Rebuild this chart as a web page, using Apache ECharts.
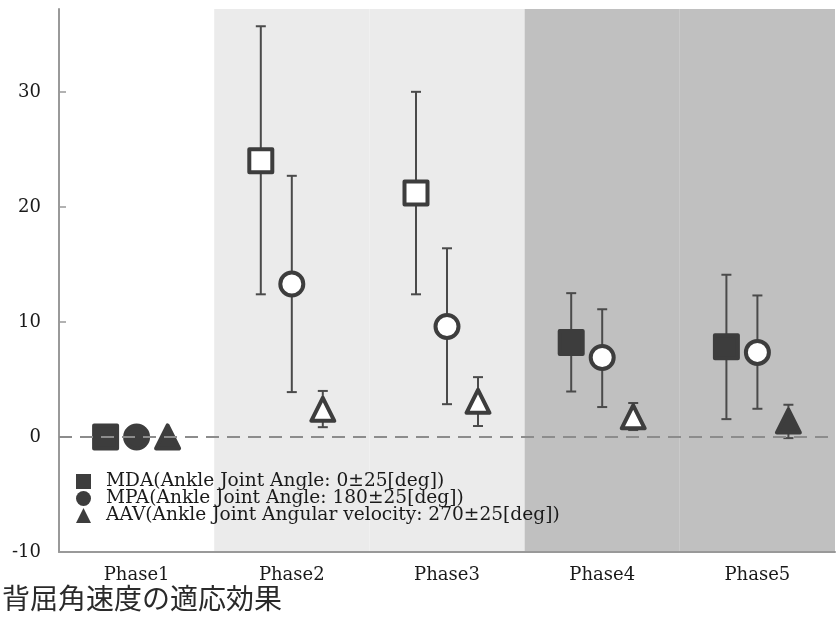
<!DOCTYPE html>
<html>
<head>
<meta charset="utf-8">
<script src="https://cdn.jsdelivr.net/npm/echarts@6/dist/echarts.min.js"></script>
<style>html,body{margin:0;padding:0;background:#fff}#c{width:838px;height:623px}</style>
</head>
<body>
<div id="c"></div>
<script>
// ---- data ----
var phases = ['Phase1', 'Phase2', 'Phase3', 'Phase4', 'Phase5'];
var yTicks = [-10, 0, 10, 20, 30];
var bandColors = ['#ffffff', '#ebebeb', '#ebebeb', '#c0c0c0', '#c0c0c0'];
var seriesNames = [
  'MDA(Ankle Joint Angle: 0\u00b125[deg])',
  'MPA(Ankle Joint Angle: 180\u00b125[deg])',
  'AAV(Ankle Joint Angular velocity: 270\u00b125[deg])'
];
var mdaMean = [0, 24.0, 21.2, 8.2, 7.85];
var mdaLow  = [0, 12.4, 12.4, 3.95, 1.55];
var mdaHigh = [0, 35.7, 30.0, 12.5, 14.1];
var mpaMean = [0, 13.3, 9.6, 6.9, 7.35];
var mpaLow  = [0, 3.9, 2.85, 2.6, 2.45];
var mpaHigh = [0, 22.7, 16.4, 11.1, 12.3];
var aavMean = [0, 2.4, 3.1, 1.75, 1.38];
var aavLow  = [0, 0.85, 0.95, 0.6, -0.1];
var aavHigh = [0, 4.0, 5.2, 2.95, 2.8];
var mdaFilled = [1, 0, 0, 1, 1];
var mpaFilled = [1, 0, 0, 0, 0];
var aavFilled = [1, 0, 0, 0, 1];

// ---- styling ----
var DARK = '#3d3d3d';
var BAR = '#4a4a4a';
var SERIF = 'DejaVu Serif';
var offsets = [-31, 0, 31];
var symbols = ['rect', 'circle', 'triangle'];
var sizes = [23, 23, 23];

var chart = echarts.init(document.getElementById('c'), null, {renderer: 'canvas'});

function pointData(mean, filled) {
  return mean.map(function (v, i) {
    return {
      value: [i, v],
      itemStyle: {
        color: filled[i] ? DARK : '#ffffff',
        borderColor: DARK,
        borderWidth: 4
      }
    };
  });
}
function barData(low, high) {
  return low.map(function (v, i) { return [i, v, high[i]]; });
}
function errorRender(off) {
  return function (params, api) {
    var lo = api.coord([api.value(0), api.value(1)]);
    var hi = api.coord([api.value(0), api.value(2)]);
    var x = lo[0] + off;
    var cap = 5;
    var st = {stroke: BAR, lineWidth: 2};
    return {
      type: 'group',
      children: [
        {type: 'line', shape: {x1: x, y1: lo[1], x2: x, y2: hi[1]}, style: st},
        {type: 'line', shape: {x1: x - cap, y1: lo[1], x2: x + cap, y2: lo[1]}, style: st},
        {type: 'line', shape: {x1: x - cap, y1: hi[1], x2: x + cap, y2: hi[1]}, style: st}
      ]
    };
  };
}

var means = [mdaMean, mpaMean, aavMean];
var lows = [mdaLow, mpaLow, aavLow];
var highs = [mdaHigh, mpaHigh, aavHigh];
var filleds = [mdaFilled, mpaFilled, aavFilled];

var series = [];
// background bands
series.push({
  type: 'custom',
  silent: true,
  z: 0,
  data: phases.map(function (p, i) { return [i, 0]; }),
  renderItem: function (params, api) {
    var c = api.coord([api.value(0), 0]);
    var w = api.size([1, 0])[0];
    var cs = params.coordSys;
    return {
      type: 'rect',
      shape: {x: c[0] - w / 2, y: cs.y, width: w, height: cs.height},
      style: {fill: bandColors[params.dataIndex]}
    };
  }
});
// error bars
for (var k = 0; k < 3; k++) {
  series.push({
    type: 'custom',
    silent: true,
    z: 1,
    data: barData(lows[k], highs[k]),
    renderItem: errorRender(offsets[k])
  });
}
// markers
for (var k2 = 0; k2 < 3; k2++) {
  series.push({
    name: seriesNames[k2],
    type: 'scatter',
    z: 3,
    symbol: symbols[k2],
    symbolSize: sizes[k2],
    symbolOffset: [offsets[k2], 0],
    itemStyle: {color: DARK, borderColor: DARK, borderWidth: 4, borderJoin: 'round', opacity: 1},
    emphasis: {disabled: true},
    data: pointData(means[k2], filleds[k2])
  });
}
// zero line
series.push({
  type: 'line',
  z: 5,
  data: [],
  silent: true,
  markLine: {
    silent: true,
    symbol: 'none',
    label: {show: false},
    lineStyle: {color: '#8c8c8c', width: 2, type: [13, 8]},
    emphasis: {disabled: true},
    data: [{yAxis: 0}]
  }
});

chart.setOption({
  animation: false,
  backgroundColor: '#ffffff',
  title: {
    text: '背屈角速度の適応効果',
    left: 2,
    top: 584,
    padding: 0,
    textStyle: {fontFamily: 'Noto Sans CJK JP', fontSize: 28, fontWeight: 'normal', color: '#2a2a2a'}
  },
  legend: {
    orient: 'vertical',
    left: 76,
    top: 472,
    padding: 0,
    itemGap: -2,
    itemWidth: 15,
    itemHeight: 15,
    itemStyle: {borderWidth: 0},
    textStyle: {fontFamily: SERIF, fontSize: 18.6, color: '#1a1a1a', lineHeight: 16, padding: [0, 0, 0, 10]},
    data: [
      {name: seriesNames[0], icon: 'rect'},
      {name: seriesNames[1], icon: 'circle'},
      {name: seriesNames[2], icon: 'triangle'}
    ],
    selectedMode: false
  },
  grid: {left: 59, right: 3, top: 9, bottom: 71, containLabel: false},
  xAxis: {
    type: 'category',
    data: phases,
    boundaryGap: true,
    axisLine: {onZero: false, lineStyle: {color: '#999', width: 2}},
    axisTick: {inside: true, length: 7, lineStyle: {color: '#999', width: 1.5}},
    axisLabel: {fontFamily: SERIF, fontSize: 18, color: '#1a1a1a', margin: 14},
    splitLine: {show: false}
  },
  yAxis: {
    type: 'value',
    min: -10,
    max: 37.2,
    axisLine: {show: true, lineStyle: {color: '#999', width: 2}},
    axisTick: {show: true, inside: true, length: 7, lineStyle: {color: '#999', width: 1.5}, customValues: yTicks},
    axisLabel: {fontFamily: SERIF, fontSize: 18, color: '#1a1a1a', margin: 18, customValues: yTicks},
    splitLine: {show: false}
  },
  series: series
});
</script>
</body>
</html>
